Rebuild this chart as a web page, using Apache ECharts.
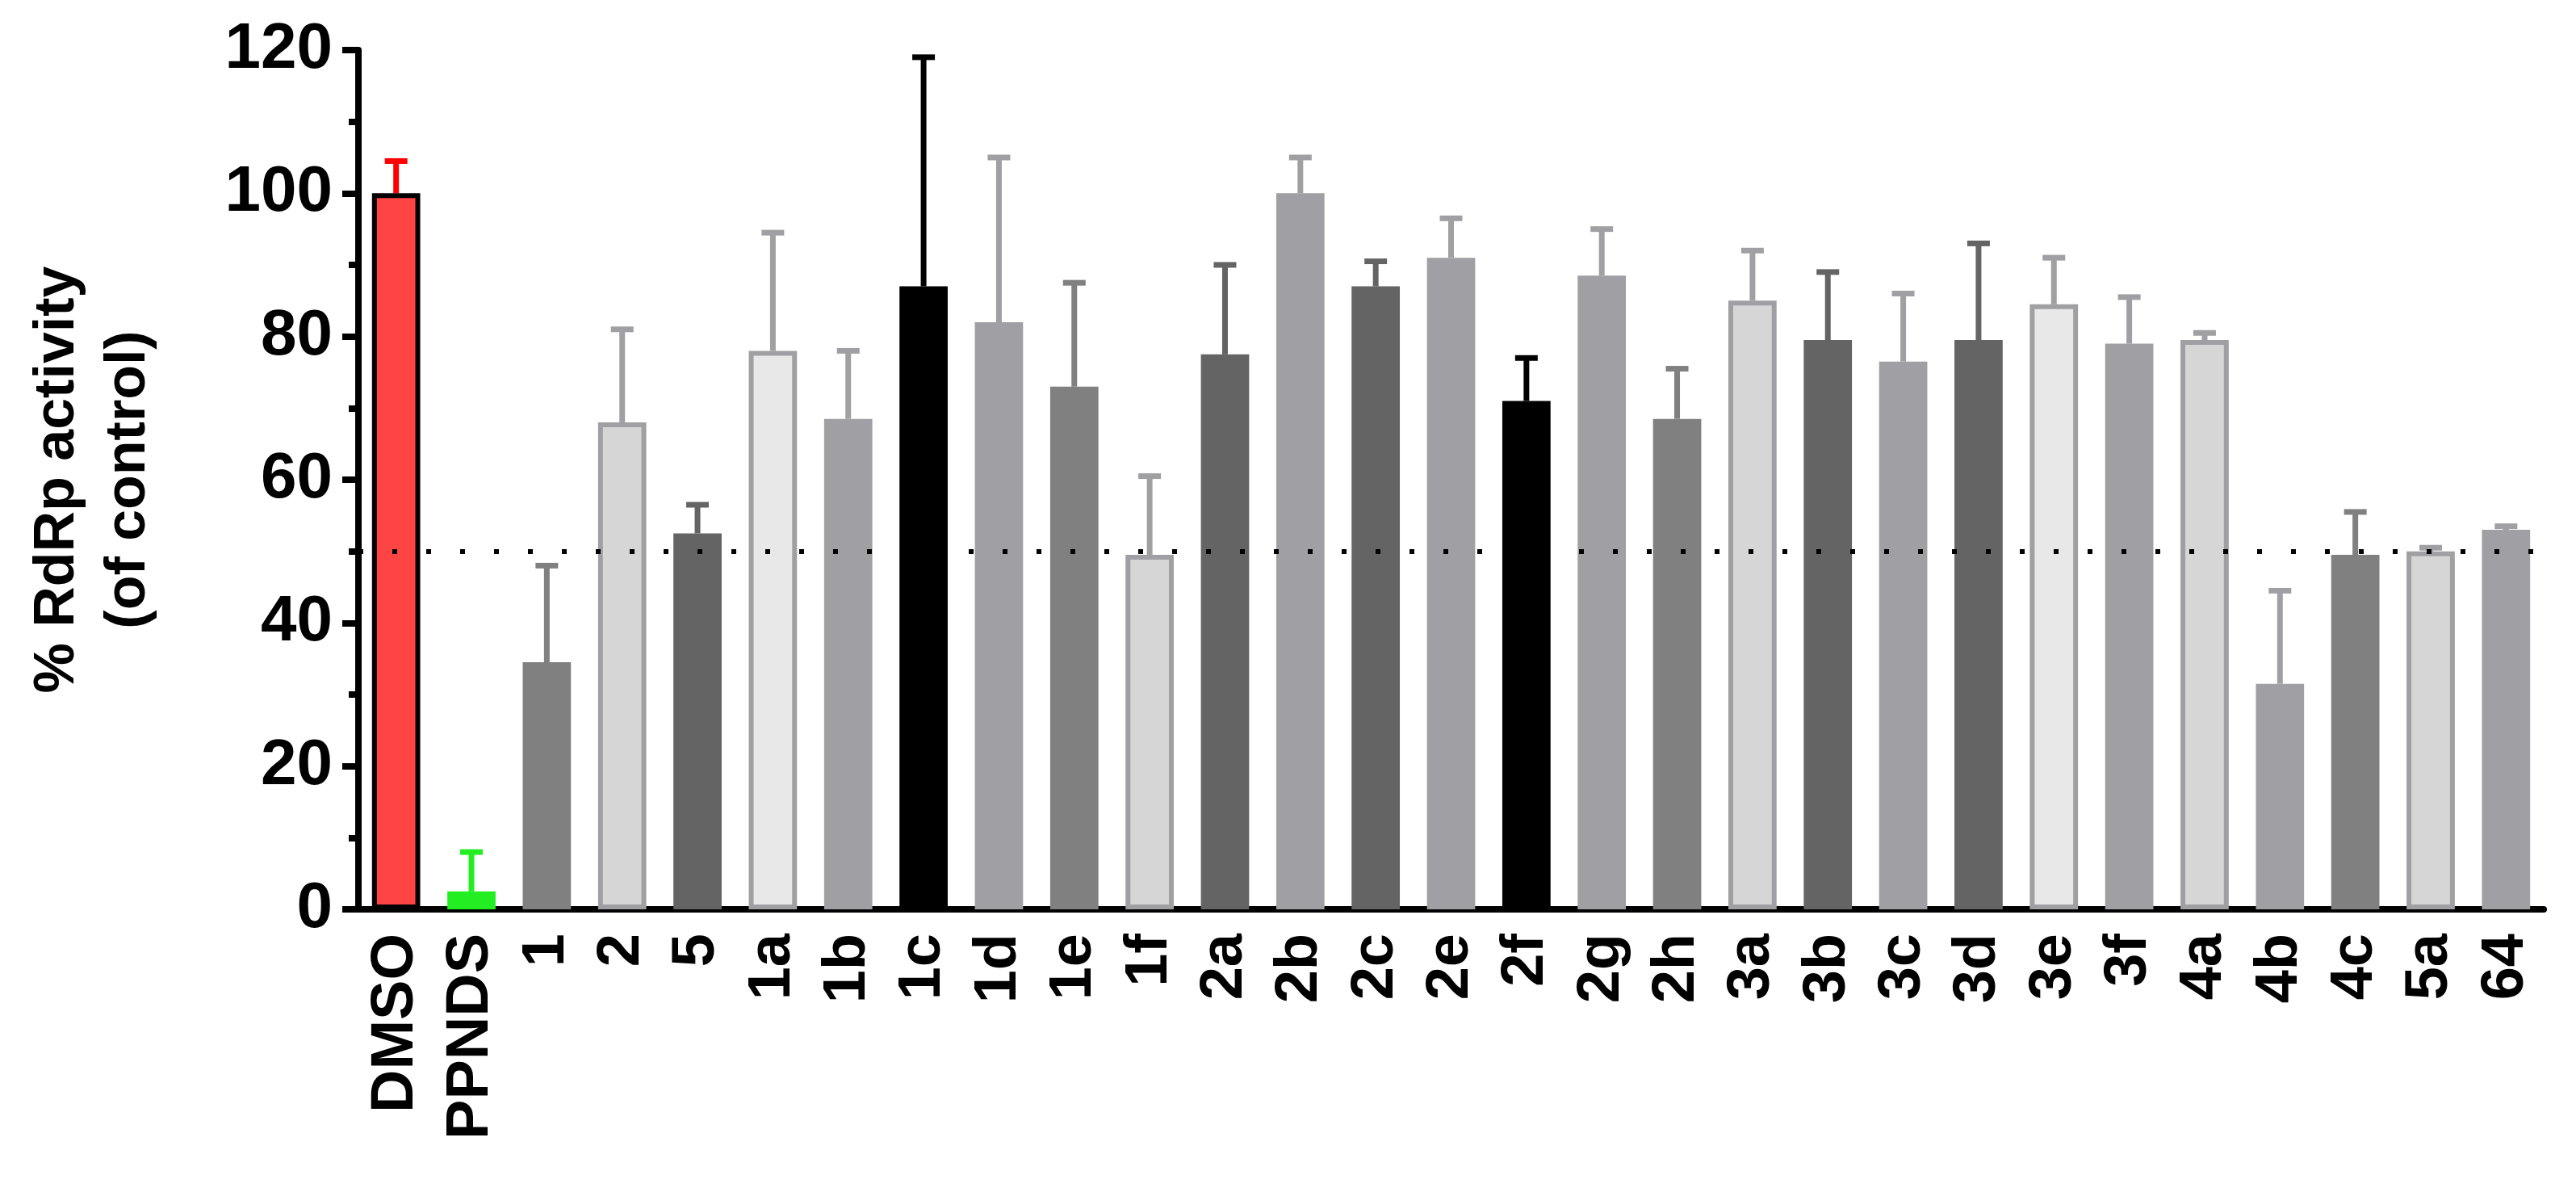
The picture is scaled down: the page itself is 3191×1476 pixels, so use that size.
<!DOCTYPE html>
<html>
<head>
<meta charset="utf-8">
<script src="https://cdn.jsdelivr.net/npm/echarts@6/dist/echarts.min.js"></script>
<style>html,body{margin:0;background:#fff}#main{width:3191px;height:1476px}</style>
</head>
<body>
<div id="main"></div>
<script>
var categories = ['DMSO','PPNDS','1','2','5','1a','1b','1c','1d','1e','1f','2a','2b','2c','2e','2f','2g','2h','3a','3b','3c','3d','3e','3f','4a','4b','4c','5a','64'];
var means = [100,2.5,34.5,68,52.5,78,68.5,87,82,73,49.5,77.5,100,87,91,71,88.5,68.5,85,79.5,76.5,79.5,84.5,79,79.5,31.5,49.5,50,53];
var errTops = [104.5,8,48,81,56.5,94.5,78,119,105,87.5,60.5,90,105,90.5,96.5,77,95,75.5,92,89,86,93,91,85.5,80.5,44.5,55.5,50.5,53.5];
var fills = ['#ff4444','#22ee22','#808080','#d6d6d6','#646464','#e8e8e8','#a0a0a4','#000000','#a0a0a4','#808080','#d6d6d6','#646464','#a0a0a4','#646464','#a0a0a4','#000000','#a0a0a4','#808080','#d6d6d6','#646464','#a0a0a4','#646464','#e8e8e8','#a0a0a4','#d6d6d6','#a0a0a4','#808080','#d6d6d6','#a0a0a4'];
var borders = ['#000000','#22ee22','#808080','#a0a0a4','#646464','#a0a0a4','#a0a0a4','#000000','#a0a0a4','#808080','#a0a0a4','#646464','#a0a0a4','#646464','#a0a0a4','#000000','#a0a0a4','#808080','#a0a0a4','#646464','#a0a0a4','#646464','#a0a0a4','#a0a0a4','#a0a0a4','#a0a0a4','#808080','#a0a0a4','#a0a0a4'];
var errColors = ['#ff0000','#22ee22','#808080','#a0a0a4','#646464','#a0a0a4','#a0a0a4','#000000','#a0a0a4','#808080','#a0a0a4','#646464','#a0a0a4','#646464','#a0a0a4','#000000','#a0a0a4','#808080','#a0a0a4','#646464','#a0a0a4','#646464','#a0a0a4','#a0a0a4','#a0a0a4','#a0a0a4','#808080','#a0a0a4','#a0a0a4'];

var font = 'Liberation Sans';
var chart = echarts.init(document.getElementById('main'));
chart.setOption({
  animation: false,
  grid: {left: 444, right: 90, top: 62, bottom: 370},
  xAxis: {
    type: 'category', data: categories,
    axisLine: {lineStyle: {color: '#000', width: 8}},
    axisTick: {alignWithLabel: true, length: 20, lineStyle: {color: '#000', width: 8}},
    axisLabel: {rotate: 90, interval: 0, margin: 28, color: '#000', fontFamily: font, fontWeight: 'bold', fontSize: 58}
  },
  yAxis: {
    type: 'value', min: 0, max: 120, interval: 20,
    name: '% RdRp activity\n(of control)', nameLocation: 'middle', nameGap: 250, nameRotate: 90,
    nameTextStyle: {color: '#000', fontFamily: font, fontWeight: 'bold', fontSize: 62, lineHeight: 76},
    axisLine: {show: true, lineStyle: {color: '#000', width: 8}},
    axisTick: {show: true, length: 20, lineStyle: {color: '#000', width: 8}},
    minorTick: {show: true, splitNumber: 2, length: 12, lineStyle: {color: '#000', width: 8}},
    splitLine: {show: false},
    axisLabel: {margin: 30, color: '#000', fontFamily: font, fontWeight: 'bold', fontSize: 66}
  },
  series: [{
    type: 'bar', barWidth: '64%', z: 2,
    data: means.map(function (v, i) {
      return {value: v, itemStyle: {color: fills[i], borderColor: borders[i], borderWidth: 6}};
    }),
    markLine: {
      silent: true, symbol: 'none', label: {show: false},
      lineStyle: {color: '#000', type: [6, 36], width: 6},
      data: [{yAxis: 50}]
    }
  }, {
    type: 'custom', z: 1,
    data: means.map(function (v, i) { return [i, v, errTops[i]]; }),
    renderItem: function (params, api) {
      var i = api.value(0);
      var base = api.coord([i, api.value(1)]);
      var top = api.coord([i, api.value(2)]);
      var half = api.size([1, 0])[0] * 0.15;
      var st = {stroke: errColors[i], lineWidth: 7};
      return {type: 'group', children: [
        {type: 'line', shape: {x1: base[0], y1: base[1], x2: top[0], y2: top[1]}, style: st},
        {type: 'line', shape: {x1: top[0] - half, y1: top[1], x2: top[0] + half, y2: top[1]}, style: st}
      ]};
    }
  }]
});
chart.setOption({
  grid: {left: 444, right: 40, top: 62, bottom: 350},
  xAxis: {axisLabel: {fontSize: 74, margin: 30}},
  yAxis: {nameGap: 240, nameTextStyle: {fontSize: 70, lineHeight: 88}, axisLabel: {fontSize: 80, margin: 32}}
});
</script>
</body>
</html>
